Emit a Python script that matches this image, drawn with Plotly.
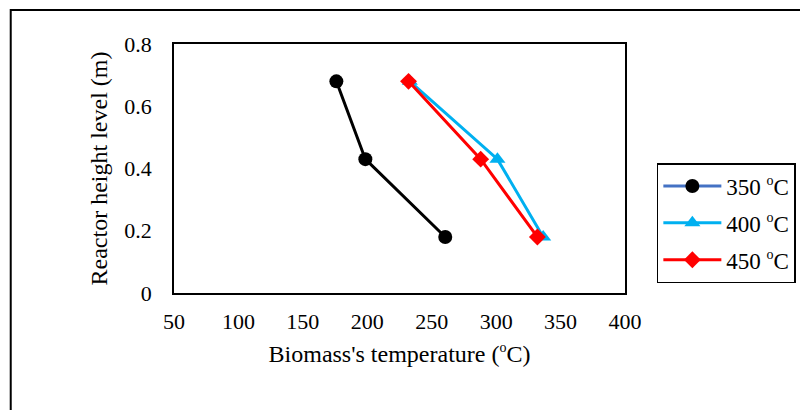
import plotly.graph_objects as go

temp_350 = [176, 198.5, 260.5]
temp_400 = [233, 301, 336.5]
temp_450 = [232, 288, 332]
height_350 = [0.68, 0.43, 0.18]
height_400 = [0.68, 0.43, 0.18]
height_450 = [0.68, 0.43, 0.18]
DEG = "<sup><span style='font-size:14px'>o</span></sup>"
series_names = ["350 " + DEG + "C", "400 " + DEG + "C", "450 " + DEG + "C"]
x_ticks = [50, 100, 150, 200, 250, 300, 350, 400]
y_ticks = [0, 0.2, 0.4, 0.6, 0.8]

FONT = "Liberation Serif, Times New Roman, serif"

fig = go.Figure()
# 350 data (black line) without legend
fig.add_trace(go.Scatter(x=temp_350, y=height_350, mode="lines+markers",
                         line=dict(color="black", width=3),
                         marker=dict(symbol="circle", size=14, color="black"),
                         showlegend=False, cliponaxis=False))
fig.add_trace(go.Scatter(x=temp_400, y=height_400, mode="lines+markers", name=series_names[1],
                         line=dict(color="#00B0F0", width=3),
                         marker=dict(symbol="triangle-up", size=14, color="#00B0F0"),
                         legendrank=2, legendgroup="b", cliponaxis=False))
fig.add_trace(go.Scatter(x=temp_450, y=height_450, mode="lines+markers", name=series_names[2],
                         line=dict(color="#FF0000", width=3),
                         marker=dict(symbol="diamond", size=13, color="#FF0000"),
                         legendrank=3, legendgroup="c", cliponaxis=False))
# legend entry for 350 (blue line, black marker as in reference)
fig.add_trace(go.Scatter(x=[None], y=[None], mode="lines+markers", name=series_names[0],
                         line=dict(color="#4472C4", width=3),
                         marker=dict(symbol="circle", size=14, color="black"),
                         legendrank=1, legendgroup="a"))

OFF = 8  # page body margin
W, H = 808 - OFF, 410 - OFF
L, R, T, B = 174 - OFF, 627 - OFF, 44 - OFF, 293 - OFF
pw, ph = R - L, B - T

def px_x(v):
    return (v - OFF - L) / pw

def px_y(v):
    return (B - (v - OFF)) / ph

fig.update_layout(
    width=W, height=H,
    margin=dict(l=L, r=W - R, t=T, b=H - B, pad=0),
    paper_bgcolor="white", plot_bgcolor="white",
    font=dict(family=FONT, size=22, color="black"),
    xaxis=dict(range=[50, 400], tickvals=x_ticks, showgrid=False, zeroline=False,
               showline=True, linecolor="black", linewidth=1.5, mirror=True,
               ticks="", ticklabelstandoff=8,
               tickfont=dict(family=FONT, size=22, color="black"),
               title=dict(text="Biomass's temperature (" + DEG + "C)", standoff=12,
                          font=dict(family=FONT, size=24, color="black"))),
    yaxis=dict(range=[0, 0.8], tickvals=y_ticks, showgrid=False, zeroline=False,
               showline=True, linecolor="black", linewidth=1.5, mirror=True,
               ticks="", ticklabelstandoff=16,
               tickfont=dict(family=FONT, size=22, color="black"),
               title=dict(text="Reactor height level (m)", standoff=10,
                          font=dict(family=FONT, size=24, color="black"))),
    legend=dict(x=px_x(659), y=px_y(163), xanchor="left", yanchor="top",
                bordercolor="black", borderwidth=1.5, bgcolor="white",
                font=dict(family=FONT, size=23, color="black"),
                tracegroupgap=4, itemwidth=58),
    shapes=[dict(type="rect", xref="paper", yref="paper",
                 x0=px_x(10), x1=px_x(815), y0=px_y(418), y1=px_y(10),
                 line=dict(color="black", width=2), layer="below")],
)

fig.write_html("out.html")
